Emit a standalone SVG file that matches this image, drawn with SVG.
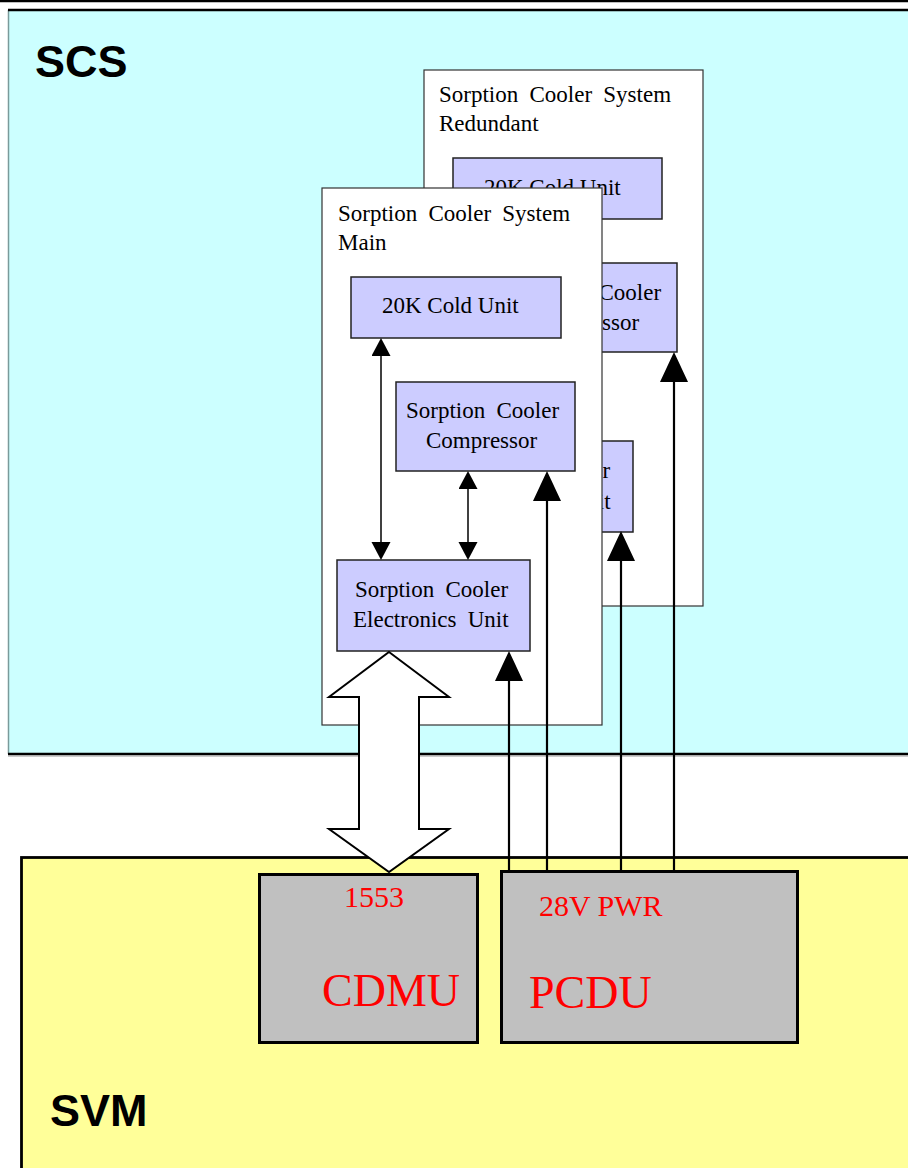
<svg xmlns="http://www.w3.org/2000/svg" width="908" height="1168" viewBox="0 0 908 1168">
<style>
.lbl{font-family:"Liberation Serif","Times New Roman",serif;font-size:23px;fill:#000}
.js{word-spacing:5.5px}
.big{font-family:"Liberation Sans",Arial,sans-serif;font-weight:bold;font-size:45px;fill:#000}
.red{font-family:"Liberation Serif","Times New Roman",serif;fill:#ff0000}
.sys{fill:#ffffff;stroke:#333;stroke-width:1.2}
.unit{fill:#ccccff;stroke:#222;stroke-width:1.5}
.dev{fill:#c0c0c0;stroke:#000;stroke-width:3}
.thin{stroke:#000;stroke-width:1.5;fill:none}
.pwr{stroke:#000;stroke-width:2.2;fill:none}
</style>
<defs>
<marker id="sm" markerUnits="userSpaceOnUse" markerWidth="20" markerHeight="20" refX="0" refY="9.5" orient="auto-start-reverse">
<path d="M0,0 L18,9.5 L0,19 z" fill="#000"/>
</marker>
<marker id="bg" markerUnits="userSpaceOnUse" markerWidth="32" markerHeight="30" refX="0" refY="14" orient="auto">
<path d="M0,0 L30,14 L0,28 z" fill="#000"/>
</marker>
</defs>

<g id="scs">
<rect x="8" y="10" width="910" height="744" fill="#ccffff"/>
<line x1="8.5" y1="10" x2="8.5" y2="754" stroke="#7a9a9a" stroke-width="1.5"/>
<line x1="8" y1="10" x2="908" y2="10" stroke="#000" stroke-width="2.5"/>
<line x1="8" y1="754" x2="908" y2="754" stroke="#000" stroke-width="2.5"/>
<line x1="8" y1="756" x2="908" y2="756" stroke="#999" stroke-width="1"/>
<text class="big" x="35" y="77">SCS</text>
</g>
<line x1="0" y1="1" x2="908" y2="1" stroke="#000" stroke-width="2.5"/>

<g id="svm">
<rect x="21.5" y="857.5" width="900" height="320" fill="#ffff99" stroke="#000" stroke-width="2.8"/>
<text class="big" x="50" y="1126">SVM</text>
</g>

<g id="redundant">
<rect class="sys" x="424" y="70" width="279" height="536"/>
<text class="lbl js" x="439" y="102">Sorption Cooler System</text>
<text class="lbl" x="439" y="131">Redundant</text>
<g id="r-cold"><rect class="unit" x="453" y="158" width="209" height="61"/>
<text class="lbl" x="484" y="195">20K Cold Unit</text></g>
<g id="r-comp"><rect class="unit" x="498" y="263" width="179" height="89"/>
<text class="lbl js" x="508" y="300">Sorption Cooler</text>
<text class="lbl" x="528" y="330">Compressor</text></g>
<g id="r-elec"><rect class="unit" x="439" y="441" width="194" height="91"/>
<text class="lbl js" x="457" y="478">Sorption Cooler</text>
<text class="lbl js" x="455" y="509">Electronics Unit</text></g>
</g>

<g id="main">
<rect class="sys" x="322" y="188" width="280" height="537"/>
<text class="lbl js" x="338" y="221">Sorption Cooler System</text>
<text class="lbl" x="338" y="250">Main</text>
<g id="m-cold"><rect class="unit" x="351" y="277" width="210" height="61"/>
<text class="lbl" x="382" y="313">20K Cold Unit</text></g>
<g id="m-comp"><rect class="unit" x="396" y="382" width="179" height="89"/>
<text class="lbl js" x="406" y="418">Sorption Cooler</text>
<text class="lbl" x="426" y="448">Compressor</text></g>
<g id="m-elec"><rect class="unit" x="337" y="560" width="193" height="91"/>
<text class="lbl js" x="355" y="597">Sorption Cooler</text>
<text class="lbl js" x="353" y="627">Electronics Unit</text></g>
</g>

<g id="cdmu">
<rect class="dev" x="259.5" y="874.5" width="218" height="168"/>
<text class="red" x="344" y="907" font-size="30">1553</text>
<text class="red" x="322" y="1006" font-size="46">CDMU</text>
</g>
<g id="pcdu">
<rect class="dev" x="501.5" y="871.5" width="296" height="171"/>
<text class="red" x="539" y="916" font-size="30">28V PWR</text>
<text class="red" x="529" y="1008" font-size="46">PCDU</text>
</g>

<g id="connectors">
<line class="thin" x1="381" y1="356" x2="381" y2="542" marker-start="url(#sm)" marker-end="url(#sm)"/>
<line class="thin" x1="468" y1="489" x2="468" y2="542" marker-start="url(#sm)" marker-end="url(#sm)"/>
<line class="pwr" x1="509" y1="872" x2="509" y2="681" marker-end="url(#bg)"/>
<line class="pwr" x1="547" y1="872" x2="547" y2="501" marker-end="url(#bg)"/>
<line class="pwr" x1="621" y1="872" x2="621" y2="561" marker-end="url(#bg)"/>
<line class="pwr" x1="674" y1="872" x2="674" y2="382" marker-end="url(#bg)"/>
<polygon points="389,652 449,697 419,697 419,829 449,829 389,872 329,829 359,829 359,697 329,697" fill="#fff" stroke="#000" stroke-width="2"/>
</g>
</svg>
